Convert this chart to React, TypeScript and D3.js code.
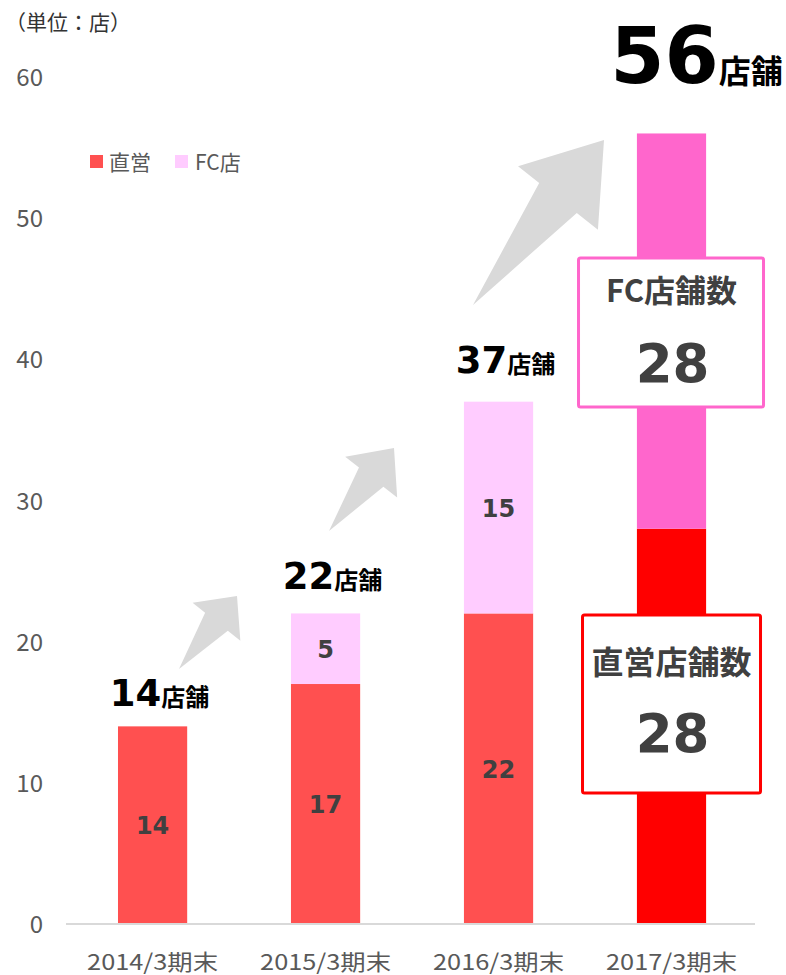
import React from "react";
import * as d3 from "d3";

const categories = ["2014/3期末", "2015/3期末", "2016/3期末", "2017/3期末"];
const directValues = [14, 17, 22, 28];
const fcValues = [0, 5, 15, 28];
const yTicks = [0, 10, 20, 30, 40, 50, 60];
const seriesNames = ["直営", "FC店"];
const unitLabel = "（単位：店）";
const storeSuffix = "店舗";
const boxTitles = ["FC店舗数", "直営店舗数"];

const W = 786;
const H = 975;
const COL_DIRECT = "#FF5050";
const COL_FC = "#FFCCFF";
const COL_DIRECT_HI = "#FF0000";
const COL_FC_HI = "#FF66CC";
const NUM_FONT = "'DejaVu Sans', 'Noto Sans CJK JP', sans-serif";
const JP_FONT = "'Noto Sans CJK JP', 'Noto Sans', sans-serif";

type Arrow = { tail: [number, number]; tip: [number, number]; hw: number; hh: number; hl: number };
const arrows: Arrow[] = [
  { tail: [179, 669], tip: [237, 596], hw: 14.5, hh: 30.5, hl: 33 },
  { tail: [329, 531], tip: [394, 448], hw: 15.5, hh: 33, hl: 37 },
  { tail: [473, 305], tip: [604, 140], hw: 24, hh: 51, hl: 74 },
];

function arrowPath(a: Arrow): string {
  const [tx, ty] = a.tail;
  const [px, py] = a.tip;
  const L = Math.hypot(px - tx, py - ty);
  const dx = (px - tx) / L;
  const dy = (py - ty) / L;
  const nx = -dy;
  const ny = dx;
  const bx = px - dx * a.hl;
  const by = py - dy * a.hl;
  const pts: [number, number][] = [
    [tx, ty],
    [bx + nx * a.hw, by + ny * a.hw],
    [bx + nx * a.hh, by + ny * a.hh],
    [px, py],
    [bx - nx * a.hh, by - ny * a.hh],
    [bx - nx * a.hw, by - ny * a.hw],
  ];
  return d3.line()(pts) + "Z";
}

export default function App() {
  const x = d3.scaleBand<string>().domain(categories).range([66.1, 758]).paddingInner(0.6).paddingOuter(0.3);
  const y = d3.scaleLinear().domain([0, 60]).range([924, 77]);
  const bw = x.bandwidth();
  const last = categories.length - 1;
  const totalOffsets = [20, 24, 29];

  return (
    <div style={{ position: "absolute", left: 0, top: 0 }}>
      <svg width={W} height={H} style={{ display: "block", background: "#fff" }}>
        <text x={5} y={30} fontFamily={JP_FONT} fontSize={21} fill="#333">{unitLabel}</text>

        {yTicks.map((t) => (
          <text key={t} x={43} y={y(t) + 9} textAnchor="end" fontFamily={JP_FONT} fontSize={24} fill="#595959">{t}</text>
        ))}

        {categories.map((c, i) => {
          const cx = x(c)! + bw / 2;
          const d = directValues[i];
          const f = fcValues[i];
          const hi = i === last;
          return (
            <g key={c}>
              <rect x={x(c)} y={y(d)} width={bw} height={y(0) - y(d)} fill={hi ? COL_DIRECT_HI : COL_DIRECT} />
              {f > 0 && <rect x={x(c)} y={y(d + f)} width={bw} height={y(d) - y(d + f)} fill={hi ? COL_FC_HI : COL_FC} />}
              {!hi && (
                <text x={cx} y={y(d / 2) + 9} textAnchor="middle" fontFamily={NUM_FONT} fontWeight="bold" fontSize={24} fill="#404040">{d}</text>
              )}
              {!hi && f > 0 && (
                <text x={cx} y={y(d + f / 2) + 9} textAnchor="middle" fontFamily={NUM_FONT} fontWeight="bold" fontSize={24} fill="#404040">{f}</text>
              )}
              {!hi && (
                <text x={cx + 7} y={y(d + f) - totalOffsets[i]} textAnchor="middle" fontFamily={NUM_FONT} fontWeight="bold" fill="#000">
                  <tspan fontSize={37}>{d + f}</tspan>
                  <tspan fontSize={24} fontFamily={JP_FONT}>{storeSuffix}</tspan>
                </text>
              )}
              <text x={cx} y={970} textAnchor="middle" fontFamily={JP_FONT} fontSize={22} fill="#595959" textLength={131} lengthAdjust="spacingAndGlyphs">{c}</text>
            </g>
          );
        })}

        <line x1={66} x2={755} y1={y(0)} y2={y(0)} stroke="#D9D9D9" strokeWidth={2} />

        {(() => {
          const c = categories[last];
          const cx = x(c)! + bw / 2;
          const tot = directValues[last] + fcValues[last];
          return (
            <text x={cx + 25} y={y(tot) - 50} textAnchor="middle" fontFamily={NUM_FONT} fontWeight="bold" fill="#000">
              <tspan fontSize={78}>{tot}</tspan>
              <tspan fontSize={32} fontFamily={JP_FONT}>{storeSuffix}</tspan>
            </text>
          );
        })()}

        {(() => {
          const c = categories[last];
          const cx = x(c)! + bw / 2;
          return (
            <g>
              <rect x={cx - 93} y={258} width={185} height={149} fill="#fff" stroke={COL_FC_HI} strokeWidth={3} rx={2} />
              <text x={cx} y={302} textAnchor="middle" fontFamily={JP_FONT} fontWeight="bold" fontSize={31} fill="#404040">{boxTitles[0]}</text>
              <text x={cx + 1} y={382} textAnchor="middle" fontFamily={NUM_FONT} fontWeight="bold" fontSize={53} fill="#404040">{fcValues[last]}</text>

              <rect x={cx - 89} y={615} width={178} height={178} fill="#fff" stroke={COL_DIRECT_HI} strokeWidth={3} rx={2} />
              <text x={cx} y={674} textAnchor="middle" fontFamily={JP_FONT} fontWeight="bold" fontSize={32} fill="#404040">{boxTitles[1]}</text>
              <text x={cx + 1} y={752} textAnchor="middle" fontFamily={NUM_FONT} fontWeight="bold" fontSize={53} fill="#404040">{directValues[last]}</text>
            </g>
          );
        })()}

        {arrows.map((a, i) => (
          <path key={i} d={arrowPath(a)} fill="#D9D9D9" />
        ))}

        <rect x={90} y={155} width={13} height={13} fill={COL_DIRECT} />
        <text x={109} y={170} fontFamily={JP_FONT} fontSize={21} fill="#595959">{seriesNames[0]}</text>
        <rect x={175} y={155} width={13} height={13} fill={COL_FC} />
        <text x={195} y={170} fontFamily={JP_FONT} fontSize={21} fill="#595959">{seriesNames[1]}</text>
      </svg>
    </div>
  );
}
